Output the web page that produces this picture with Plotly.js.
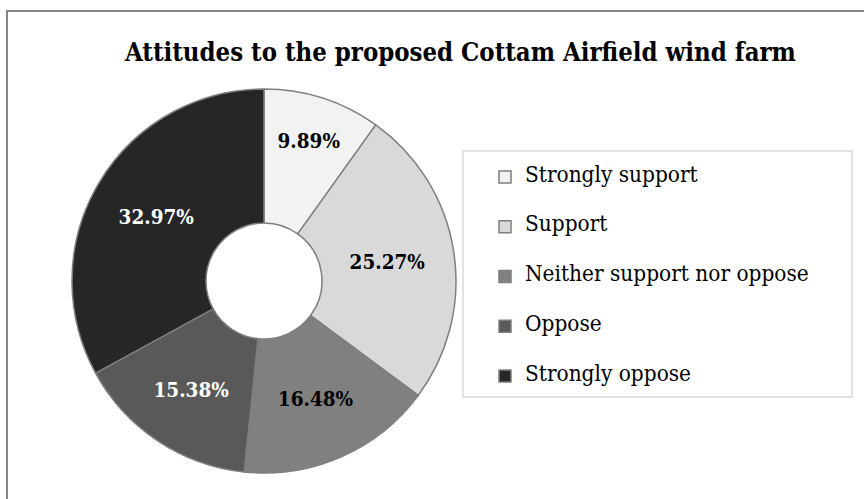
<!DOCTYPE html>
<html>
<head>
<meta charset="utf-8">
<script src="https://cdn.plot.ly/plotly-3.0.1.min.js"></script>
<style>
  html, body { margin: 0; padding: 0; background: #fff; }
  #chart { width: 864px; height: 499px; }
</style>
</head>
<body>
<div id="chart"></div>
<script>
// ---- Data (counts out of 91 respondents) ----
const categories = ["Strongly support", "Support", "Neither support nor oppose", "Oppose", "Strongly oppose"];
const counts = [9, 23, 15, 14, 30];
const sliceColors = ["#f2f2f2", "#d9d9d9", "#808080", "#595959", "#262626"];
const labelColors = ["#000000", "#000000", "#000000", "#ffffff", "#ffffff"];
const chartTitle = "Attitudes to the proposed Cottam Airfield wind farm";

const FONT = "'DejaVu Serif Condensed', 'DejaVu Serif', serif";
const W = 864, H = 499;
const px = v => v / W;
const py = v => 1 - v / H;

// legend entries: taller rows via blank lines around the label
const legendLabels = categories.map(c => '<br><span style="font-size:22.4px">' + c + '</span><br>&nbsp;');

const trace = {
  type: "pie",
  labels: legendLabels,
  values: counts,
  sort: false,
  direction: "clockwise",
  rotation: 0,
  hole: 0.302,
  marker: { colors: sliceColors, line: { color: "#7f7f7f", width: 1.5 } },
  textinfo: "percent",
  texttemplate: "%{percent:.2%}",
  textposition: "inside",
  insidetextorientation: "horizontal",
  insidetextfont: { family: FONT, size: 20.5, weight: "bold", stretch: "condensed", color: labelColors },
  domain: { x: [px(264 - 192), px(264 + 192)], y: [(499 - 281 - 192) / H, (499 - 281 + 192) / H] },
  hoverinfo: "skip"
};

const layout = {
  width: W, height: H,
  margin: { l: 0, r: 0, t: 0, b: 0 },
  paper_bgcolor: "#ffffff",
  plot_bgcolor: "#ffffff",
  title: {
    text: chartTitle,
    font: { family: FONT, size: 25.5, weight: "bold", stretch: "condensed", color: "#000000" },
    x: px(125), xanchor: "left", xref: "paper",
    y: py(52.5), yanchor: "middle", yref: "paper"
  },
  showlegend: true,
  legend: {
    x: px(485), xanchor: "left",
    y: py(147), yanchor: "top",
    bgcolor: "rgba(0,0,0,0)",
    borderwidth: 0,
    font: { family: FONT, size: 12, stretch: "condensed", color: "#000000" },
    traceorder: "normal"
  },
  shapes: [
    { type: "rect", xref: "paper", yref: "paper",
      x0: px(7), x1: 1.05, y0: -0.05, y1: py(11),
      line: { color: "#868686", width: 2 }, fillcolor: "rgba(0,0,0,0)", layer: "above" },
    { type: "rect", xref: "paper", yref: "paper",
      x0: px(463), x1: px(852), y0: py(397), y1: py(151),
      line: { color: "#d9d9d9", width: 1.5 }, fillcolor: "rgba(0,0,0,0)", layer: "below" }
  ]
};

Plotly.newPlot("chart", [trace], layout, { staticPlot: true, displayModeBar: false });
</script>
</body>
</html>
